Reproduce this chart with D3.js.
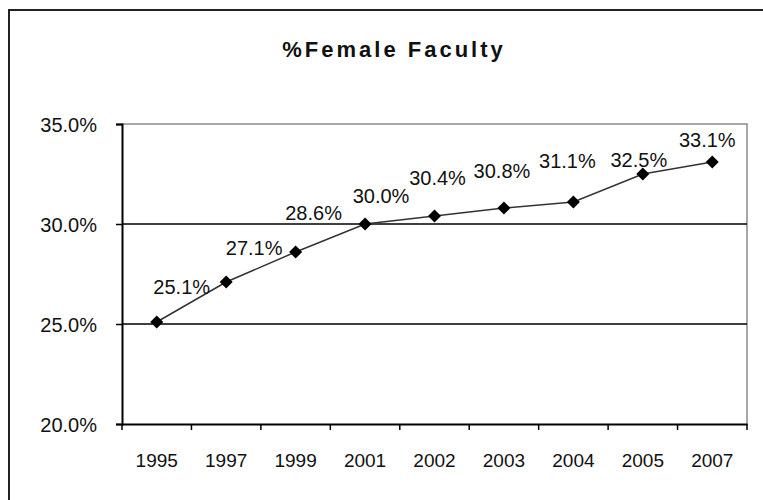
<!DOCTYPE html>
<html>
<head>
<meta charset="utf-8">
<script src="https://cdn.jsdelivr.net/npm/d3@7"></script>
<style>
  html, body { margin: 0; padding: 0; background: #fff; }
  svg { display: block; font-family: Arial, "Liberation Sans", sans-serif; }
</style>
</head>
<body>
<svg id="chart" width="763" height="500"></svg>
<script>
// ---- data ----
const title = "%Female Faculty";
const years = ["1995", "1997", "1999", "2001", "2002", "2003", "2004", "2005", "2007"];
const femalePct = [25.1, 27.1, 28.6, 30.0, 30.4, 30.8, 31.1, 32.5, 33.1];
const yTicks = [20, 25, 30, 35];
// manual label nudges (pixels) as placed in the original chart
const labelDx = [25, 28, 18, 16, 3, -2, -6, -4, -5];
const labelDy = [-28, -27, -32, -21, -31, -30, -34, -7, -15];

// ---- layout ----
const svg = d3.select("#chart");
const plot = { left: 122, top: 124, right: 747, bottom: 424 };

svg.append("rect")
  .attr("x", 9).attr("y", 10).attr("width", 900).attr("height", 600)
  .attr("fill", "#fff").attr("stroke", "#222").attr("stroke-width", 2);

svg.append("text")
  .attr("x", 394).attr("y", 57)
  .attr("text-anchor", "middle")
  .attr("font-size", 22).attr("font-weight", "bold")
  .attr("letter-spacing", 3)
  .attr("fill", "#111")
  .text(title);

const x = d3.scaleBand().domain(years).range([plot.left, plot.right]).padding(0);
const y = d3.scaleLinear().domain([20, 35]).range([plot.bottom, plot.top]);

// plot area border (top/right gray)
svg.append("path")
  .attr("d", `M${plot.left},${y(35)}H${plot.right}V${plot.bottom}`)
  .attr("fill", "none").attr("stroke", "#8a8a8a").attr("stroke-width", 1.5);

// gridlines
svg.append("g").selectAll("line")
  .data(yTicks.filter(t => t > 20 && t < 35))
  .join("line")
  .attr("x1", plot.left).attr("x2", plot.right)
  .attr("y1", d => y(d)).attr("y2", d => y(d))
  .attr("stroke", "#000").attr("stroke-width", 1.5);

// y axis
const yAxis = d3.axisLeft(y).tickValues(yTicks)
  .tickFormat(d => d3.format(".1f")(d) + "%")
  .tickSize(6).tickPadding(19);
const gy = svg.append("g").attr("transform", `translate(${plot.left},0)`).call(yAxis);
gy.select(".domain").attr("stroke", "#000").attr("stroke-width", 2);
gy.selectAll(".tick line").attr("stroke", "#000").attr("stroke-width", 1.5);
gy.selectAll(".tick text")
  .attr("font-size", 20).attr("fill", "#111")
  .attr("font-family", "Arial, 'Liberation Sans', sans-serif")
  .attr("dy", "0.36em");

// x axis
const xAxis = d3.axisBottom(x).tickSize(0).tickPadding(30);
const gx = svg.append("g").attr("transform", `translate(0,${plot.bottom})`).call(xAxis);
gx.select(".domain").attr("stroke", "#000").attr("stroke-width", 2);
gx.selectAll(".tick text")
  .attr("font-size", 19).attr("fill", "#111")
  .attr("font-family", "Arial, 'Liberation Sans', sans-serif");
// category boundary tick marks
const bounds = years.map(d => x(d)).concat([x(years[years.length - 1]) + x.bandwidth()]);
gx.append("g").selectAll("line")
  .data(bounds)
  .join("line")
  .attr("x1", d => d).attr("x2", d => d)
  .attr("y1", 0).attr("y2", 6)
  .attr("stroke", "#000").attr("stroke-width", 1.5);

// series line
const pts = years.map((yr, i) => ({ yr, v: femalePct[i], i }));
const cx = d => x(d.yr) + x.bandwidth() / 2;
svg.append("path")
  .datum(pts)
  .attr("d", d3.line().x(cx).y(d => y(d.v)))
  .attr("fill", "none").attr("stroke", "#333").attr("stroke-width", 1.5);

// diamond markers
const r = 6.5;
svg.append("g").selectAll("path")
  .data(pts)
  .join("path")
  .attr("d", d => {
    const px = cx(d), py = y(d.v);
    return `M${px},${py - r}L${px + r},${py}L${px},${py + r}L${px - r},${py}Z`;
  })
  .attr("fill", "#000");

// data labels
svg.append("g").selectAll("text")
  .data(pts)
  .join("text")
  .attr("x", d => cx(d) + labelDx[d.i])
  .attr("y", d => y(d.v) + labelDy[d.i])
  .attr("text-anchor", "middle")
  .attr("font-size", 20).attr("fill", "#111")
  .text(d => d3.format(".1f")(d.v) + "%");
</script>
</body>
</html>
